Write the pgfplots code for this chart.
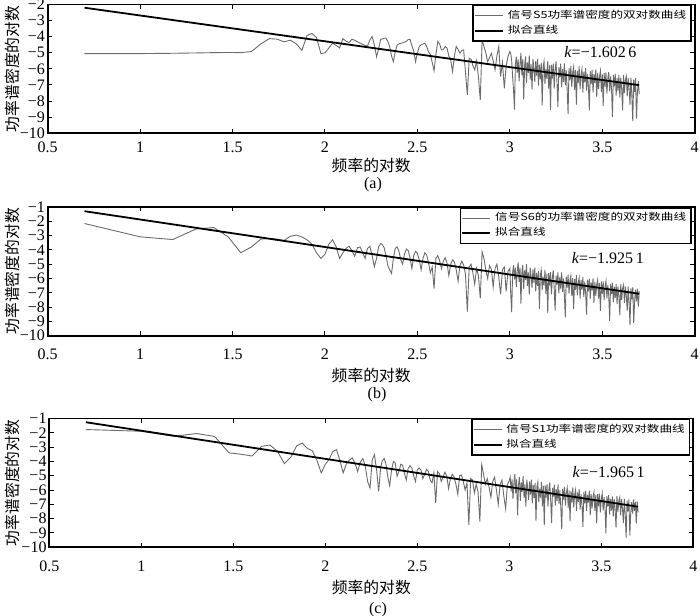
\documentclass[border=0pt]{standalone}
\usepackage{fontspec}
\setmainfont{Liberation Serif}
\newfontfamily\cjk{Noto Sans CJK SC}
\usepackage{graphicx}
\usepackage{pgfplots}
\usepackage{pgfplotstable}
\pgfplotsset{compat=1.18}

% x = log10 of frequency; a, b, c = log10 of PSD for signals S5, S6, S1
\pgfplotstableread{
x a b c
0.699 -5.05 -2.16 -1.77
1.000 -5.05 -3.09 -1.89
1.176 -5.03 -3.28 -2.24
1.301 -5.01 -2.55 -2.05
1.398 -4.99 -2.44 -2.25
1.477 -4.98 -3.10 -3.40
1.544 -4.99 -4.20 -3.50
1.602 -4.92 -3.80 -3.62
1.653 -4.45 -3.25 -2.95
1.699 -4.12 -3.20 -2.85
1.740 -4.15 -3.25 -3.30
1.778 -4.32 -3.35 -4.15
1.813 -4.22 -3.05 -3.70
1.845 -4.45 -2.97 -2.90
1.875 -4.85 -3.10 -2.72
1.903 -3.92 -3.30 -3.10
1.929 -3.80 -3.60 -3.25
1.954 -4.05 -4.20 -3.90
1.978 -5.05 -4.60 -4.80
2.000 -5.00 -4.30 -4.20
2.021 -4.70 -3.60 -3.85
2.041 -4.40 -3.30 -3.30
2.061 -4.55 -3.80 -3.18
2.079 -4.70 -4.60 -3.90
2.097 -4.12 -4.20 -4.80
2.114 -4.28 -3.90 -4.20
2.130 -4.36 -3.75 -3.92
2.146 -4.16 -4.05 -3.75
2.161 -4.22 -4.45 -4.10
2.176 -4.32 -3.85 -4.70
2.190 -4.40 -3.80 -4.05
2.204 -4.48 -4.20 -3.80
2.217 -4.55 -4.60 -4.30
2.230 -4.58 -3.90 -5.40
2.243 -4.20 -3.75 -5.86
2.255 -3.99 -4.40 -3.90
2.267 -4.50 -5.18 -3.52
2.279 -5.25 -4.60 -4.60
2.290 -4.75 -3.80 -6.09
2.301 -4.18 -3.56 -4.40
2.31 -4.14 -3.62 -3.95
2.32 -4.10 -3.85 -3.80
2.33 -4.09 -4.40 -4.20
2.34 -4.30 -5.10 -5.10
2.35 -4.62 -5.40 -5.70
2.36 -5.20 -5.65 -4.60
2.37 -5.55 -4.60 -4.00
2.38 -4.95 -3.90 -4.10
2.39 -4.52 -3.79 -5.04
2.40 -4.45 -4.10 -4.70
2.41 -4.41 -4.70 -4.20
2.42 -4.38 -5.00 -4.25
2.43 -4.33 -4.30 -4.80
2.44 -4.30 -3.95 -5.30
2.45 -4.18 -4.05 -4.50
2.46 -4.16 -4.55 -4.30
2.47 -4.55 -5.30 -4.45
2.48 -4.90 -4.40 -5.00
2.49 -5.55 -4.10 -5.40
2.50 -5.00 -4.25 -4.60
2.51 -4.60 -4.70 -4.45
2.52 -4.51 -5.40 -4.60
2.53 -4.45 -4.60 -5.20
2.54 -4.41 -4.20 -4.90
2.55 -4.60 -4.35 -4.55
2.56 -4.95 -4.90 -4.70
2.57 -5.10 -5.60 -5.30
2.58 -5.60 -5.20 -5.50
2.59 -6.11 -6.70 -4.80
2.60 -5.10 -4.60 -6.91
2.61 -4.30 -4.40 -4.70
2.62 -4.45 -4.75 -4.85
2.63 -4.82 -5.30 -5.40
2.64 -4.80 -4.80 -5.10
2.65 -4.61 -4.55 -4.75
2.66 -4.70 -4.90 -5.00
2.67 -5.20 -5.80 -5.90
2.68 -5.44 -5.00 -5.20
2.69 -6.17 -4.70 -4.90
2.70 -5.20 -4.85 -5.10
2.71 -4.61 -5.40 -5.60
2.72 -4.80 -6.20 -6.30
2.73 -5.03 -5.10 -5.00
2.74 -4.85 -4.80 -4.95
2.75 -4.82 -5.05 -5.40
2.76 -6.20 -5.70 -6.00
2.77 -7.62 -8.32 -5.50
2.78 -5.34 -5.20 -8.43
2.79 -5.40 -5.00 -5.20
2.80 -5.80 -5.60 -5.30
2.81 -6.06 -6.40 -6.20
2.82 -5.50 -5.30 -5.60
2.83 -6.50 -5.80 -6.10
2.84 -7.93 -7.39 -8.20
2.85 -4.20 -4.14 -4.22
2.86 -4.61 -4.60 -4.90
2.87 -5.00 -5.40 -5.60
2.88 -5.55 -6.00 -5.20
2.89 -5.30 -5.10 -5.80
2.90 -5.03 -5.35 -6.50
2.91 -5.50 -6.60 -5.40
2.92 -6.06 -5.30 -5.10
2.93 -5.20 -5.00 -6.00
2.94 -4.61 -5.90 -7.00
2.95 -6.48 -7.10 -5.60
2.96 -5.60 -5.40 -5.30
2.97 -7.20 -5.20 -6.40
2.98 -5.80 -6.90 -7.30
2.99 -5.23 -5.50 -5.60
3.00 -4.92 -5.30 -5.35
3.005 -5.05 -7.14 -5.10
3.010 -5.50 -8.35 -6.11
3.015 -6.51 -5.56 -5.26
3.020 -7.32 -5.07 -6.62
3.025 -8.53 -6.08 -5.53
3.030 -5.74 -5.24 -4.89
3.035 -5.24 -6.60 -6.25
3.040 -6.25 -5.51 -5.26
3.045 -5.41 -4.87 -7.77
3.050 -6.77 -6.23 -5.63
3.055 -5.68 -5.24 -5.09
3.060 -5.03 -7.75 -6.75
3.065 -6.39 -5.60 -5.46
3.070 -5.40 -5.06 -6.12
3.075 -7.91 -6.72 -5.03
3.080 -5.77 -5.43 -6.54
3.085 -5.22 -6.09 -5.60
3.090 -6.88 -5.00 -7.16
3.095 -5.59 -6.51 -5.27
3.100 -6.25 -5.57 -5.88
3.105 -5.16 -7.13 -6.69
3.110 -6.66 -5.24 -5.40
3.115 -5.72 -5.85 -6.31
3.120 -7.28 -6.66 -5.27
3.125 -5.39 -5.37 -6.93
3.130 -6.00 -6.28 -5.64
3.135 -6.80 -5.24 -6.55
3.140 -5.51 -6.90 -5.51
3.145 -6.42 -5.61 -8.17
3.150 -5.38 -6.52 -5.78
3.155 -7.04 -5.48 -5.44
3.160 -5.74 -8.14 -6.85
3.165 -6.65 -5.75 -5.91
3.170 -5.61 -5.41 -6.52
3.175 -8.27 -6.82 -5.43
3.180 -5.88 -5.88 -7.14
3.185 -5.53 -6.49 -5.70
3.190 -6.94 -5.40 -8.46
3.195 -6.00 -7.10 -5.67
3.200 -6.61 -5.66 -6.53
3.205 -5.52 -8.42 -5.59
3.210 -7.23 -5.63 -7.15
3.215 -5.78 -6.49 -5.96
3.220 -8.54 -5.55 -5.47
3.225 -5.75 -7.11 -6.78
3.230 -6.61 -5.92 -8.29
3.235 -5.67 -5.43 -5.85
3.240 -7.22 -6.74 -6.46
3.245 -6.03 -8.25 -5.62
3.250 -5.54 -5.81 -7.08
3.255 -6.85 -6.42 -5.94
3.260 -8.36 -5.58 -6.75
3.265 -5.91 -7.04 -5.61
3.270 -6.52 -5.90 -6.97
3.275 -5.68 -6.71 -6.03
3.280 -7.14 -5.57 -7.24
3.285 -6.00 -6.93 -8.75
3.290 -6.80 -5.99 -5.91
3.295 -5.66 -7.20 -6.67
3.300 -7.02 -8.71 -5.78
3.305 -6.08 -5.87 -7.08
3.310 -7.29 -6.63 -6.19
3.315 -8.79 -5.74 -5.85
3.320 -5.95 -7.05 -7.26
3.325 -6.71 -6.16 -6.02
3.330 -5.82 -5.81 -8.18
3.335 -7.13 -7.22 -6.09
3.340 -6.23 -5.98 -6.85
3.345 -5.89 -8.14 -5.81
3.350 -7.30 -6.05 -7.22
3.355 -6.06 -6.81 -6.33
3.360 -8.22 -5.77 -5.99
3.365 -6.12 -7.18 -7.45
3.370 -6.88 -6.29 -6.16
3.375 -5.84 -5.95 -6.82
3.380 -7.25 -7.41 -5.93
3.385 -6.36 -6.12 -7.34
3.390 -6.01 -6.78 -6.30
3.395 -7.47 -5.89 -7.06
3.400 -6.18 -7.30 -8.57
3.405 -6.84 -6.26 -6.13
3.410 -5.95 -7.02 -6.94
3.415 -7.35 -8.53 -6.05
3.420 -6.31 -6.09 -7.46
3.425 -7.07 -6.90 -6.32
3.430 -8.58 -6.01 -6.88
3.435 -6.14 -7.42 -6.04
3.440 -6.94 -6.28 -7.75
3.445 -6.05 -6.84 -6.26
3.450 -7.46 -6.00 -7.27
3.455 -6.32 -7.71 -6.48
3.460 -6.88 -6.22 -6.14
3.465 -6.03 -7.22 -7.45
3.470 -7.74 -6.43 -6.36
3.475 -6.25 -6.09 -8.32
3.480 -7.26 -7.40 -6.28
3.485 -6.47 -6.31 -7.14
3.490 -6.12 -8.27 -6.25
3.495 -7.43 -6.23 -7.56
3.500 -6.34 -7.09 -6.62
3.505 -8.30 -6.20 -6.23
3.510 -6.26 -7.51 -7.44
3.515 -7.11 -6.57 -6.50
3.520 -6.22 -6.18 -7.26
3.525 -7.53 -7.39 -9.02
3.530 -6.59 -6.45 -6.43
3.535 -6.20 -7.21 -7.14
3.540 -7.40 -8.97 -6.35
3.545 -6.46 -6.38 -7.71
3.550 -7.22 -7.09 -6.62
3.555 -8.98 -6.30 -7.43
3.560 -6.39 -7.66 -6.44
3.565 -7.09 -6.57 -7.85
3.570 -6.30 -7.38 -6.61
3.575 -7.66 -6.39 -7.32
3.580 -6.57 -7.80 -8.63
3.585 -7.38 -6.56 -6.43
3.590 -6.38 -7.27 -7.54
3.595 -7.79 -8.58 -6.75
3.600 -6.55 -6.38 -6.51
3.605 -7.26 -7.49 -7.77
3.610 -8.57 -6.70 -6.63
3.615 -6.37 -6.46 -7.29
3.620 -7.48 -7.72 -8.30
3.625 -6.69 -6.58 -6.61
3.630 -6.45 -7.24 -7.72
3.635 -7.71 -8.25 -9.33
3.640 -6.56 -6.56 -6.74
3.645 -7.22 -7.67 -7.50
3.650 -8.23 -9.28 -6.66
3.655 -6.54 -6.69 -9.17
3.660 -7.65 -7.45 -7.58
3.665 -9.25 -6.61 -6.84
3.670 -6.66 -9.12 -7.65
3.675 -7.42 -7.53 -6.66
3.680 -6.58 -6.79 -7.47
3.685 -9.09 -7.60 -6.83
3.690 -7.49 -6.71 -8.34
3.695 -6.75 -7.97 -6.80
3.700 -7.56 -6.88 -7.56
}\psd

\pgfplotsset{
  psd/.style={
    scale only axis, width=323.5pt, height=64.4pt,
    xmin=0.5, xmax=4, ymin=-10,
    xtick={0.5,1,1.5,2,2.5,3,3.5,4},
    xticklabels={0.5,1,1.5,2,2.5,3,3.5,4},
    tick align=inside, major tick length=2.2pt,
    axis line style={line width=0.9pt},
    tick style={black, line width=0.5pt},
    ticklabel style={font=\fontsize{8}{9}\selectfont},
    yticklabel style={inner sep=1.2pt},
    xlabel={\cjk 频率的对数},
    ylabel={\cjk 功率谱密度的对数},
    label style={font=\fontsize{7.9}{9}\selectfont},
    ylabel style={at={(axis description cs:-0.055,0.5)}, anchor=center},
    legend style={at={(1,1)}, anchor=north east, xshift=-1.5pt,
      draw=black, line width=0.8pt, inner sep=0.4pt, row sep=-2.2pt,
      font=\fontsize{6.3}{6}\selectfont, legend cell align=left},
    legend image code/.code={\draw[##1] (0pt,0pt) -- (14pt,0pt);},
  },
  sig/.style={black!58, line width=0.45pt},
  fit/.style={black, line width=0.9pt},
}

\begin{document}
\begin{tikzpicture}
\useasboundingbox (0pt,0pt) rectangle (350pt,-307.5pt);

% (a)
\begin{axis}[psd, at={(23.85pt,-66.65pt)}, anchor=south west,
  ymax=-2, ytick={-10,-9,...,-2},
  yticklabels={−10,−9,−8,−7,−6,−5,−4,−3,−2},
  xticklabel style={yshift=-0.7pt},
  xlabel style={at={(axis description cs:0.5,-0.246)}, anchor=center}]
\addplot[sig] table[x=x, y=a] {\psd};
\addlegendentry{\scalebox{1}[0.78]{\cjk 信号S5功率谱密度的双对数曲线}}
\addplot[fit] coordinates {(0.699,-2.20) (3.699,-7.01)};
\addlegendentry{\scalebox{1}[0.78]{\cjk 拟合直线}}
\node[font=\fontsize{8}{9}\selectfont] at (axis cs:3.49,-4.94) {\textit{k}=−1.602\,6};
\end{axis}
\node[font=\fontsize{8}{9}\selectfont] at (186.5pt,-92.5pt) {(a)};

% (b)
\begin{axis}[psd, at={(23.85pt,-167.85pt)}, anchor=south west,
  ymax=-1, ytick={-10,-9,...,-1},
  yticklabels={−10,−9,−8,−7,−6,−5,−4,−3,−2,−1},
  xticklabel style={yshift=-3.1pt},
  xlabel style={at={(axis description cs:0.5,-0.305)}, anchor=center}]
\addplot[sig] table[x=x, y=b] {\psd};
\addlegendentry{\scalebox{1}[0.78]{\cjk 信号S6的功率谱密度的双对数曲线}}
\addplot[fit] coordinates {(0.699,-1.30) (3.699,-7.07)};
\addlegendentry{\scalebox{1}[0.78]{\cjk 拟合直线}}
\node[font=\fontsize{8}{9}\selectfont] at (axis cs:3.53,-4.58) {\textit{k}=−1.925\,1};
\end{axis}
\node[font=\fontsize{8}{9}\selectfont] at (188.5pt,-197.5pt) {(b)};

% (c)
\begin{axis}[psd, at={(24.65pt,-273.65pt)}, anchor=south west, width=322pt,
  ymax=-1, ytick={-10,-9,...,-1},
  yticklabels={−10,−9,−8,−7,−6,−5,−4,−3,−2,−1},
  xticklabel style={yshift=-3.1pt},
  ylabel style={at={(axis description cs:-0.058,0.5)}},
  xlabel style={at={(axis description cs:0.5,-0.31)}, anchor=center}]
\addplot[sig] table[x=x, y=c] {\psd};
\addlegendentry{\scalebox{1}[0.78]{\cjk 信号S1功率谱密度的双对数曲线}}
\addplot[fit] coordinates {(0.699,-1.26) (3.699,-7.16)};
\addlegendentry{\scalebox{1}[0.78]{\cjk 拟合直线}}
\node[font=\fontsize{8}{9}\selectfont] at (axis cs:3.54,-4.73) {\textit{k}=−1.965\,1};
\end{axis}
\node[font=\fontsize{8}{9}\selectfont] at (189pt,-305pt) {(c)};
\end{tikzpicture}
\end{document}
